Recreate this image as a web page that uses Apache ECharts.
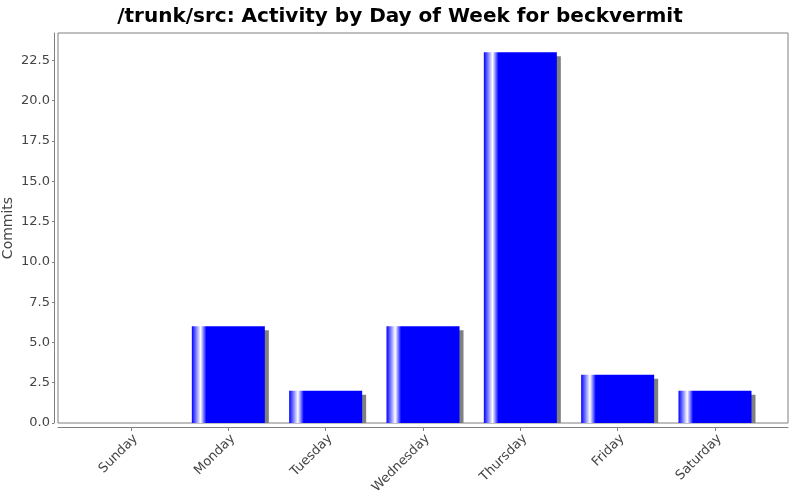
<!DOCTYPE html>
<html>
<head>
<meta charset="utf-8">
<script src="https://cdn.jsdelivr.net/npm/echarts@6/dist/echarts.min.js"></script>
<style>
  html, body { margin: 0; padding: 0; background: #fff; }
  #chart { width: 800px; height: 500px; }
</style>
</head>
<body>
<div id="chart"></div>
<script>
var days = ['Sunday', 'Monday', 'Tuesday', 'Wednesday', 'Thursday', 'Friday', 'Saturday'];
var commits = [0, 6, 2, 6, 23, 3, 2];
var titleText = '/trunk/src: Activity by Day of Week for beckvermit';
var yName = 'Commits';

var chart = echarts.init(document.getElementById('chart'));

var dayIdx = days.map(function (d, i) { return i; });

var barColor = new echarts.graphic.LinearGradient(0, 0, 1, 0, [
  { offset: 0, color: '#0000ff' },
  { offset: 0.06, color: '#8080ff' },
  { offset: 0.12, color: '#ffffff' },
  { offset: 0.2, color: '#0000ff' },
  { offset: 1, color: '#0000ff' }
]);

// bar plus grey drop shadow (shifted right/down, cut at the baseline)
function renderBar(params, api) {
  var v = api.value(1);
  if (!v) return null;
  var top = api.coord([api.value(0), v]);
  var base = api.coord([api.value(0), 0]);
  var w = api.size([0.75, 0])[0];
  var x = top[0] - w / 2;
  return {
    type: 'group',
    children: [{
      type: 'rect',
      shape: { x: x + 4, y: top[1] + 4, width: w, height: base[1] - top[1] - 4 },
      style: { fill: '#808080' }
    }, {
      type: 'rect',
      shape: { x: x, y: top[1], width: w, height: base[1] - top[1] },
      style: { fill: barColor }
    }]
  };
}

var option = {
  animation: false,
  title: {
    text: titleText,
    left: 'center',
    top: 2,
    textStyle: {
      fontFamily: 'DejaVu Sans',
      fontWeight: 'bold',
      fontSize: 20,
      color: '#000'
    }
  },
  graphic: [{
    type: 'text',
    x: 8,
    y: 228,
    rotation: Math.PI / 2,
    style: {
      text: yName,
      fontFamily: 'DejaVu Sans',
      fontSize: 14,
      fill: '#444',
      textAlign: 'center',
      textVerticalAlign: 'middle'
    }
  }],
  grid: {
    left: 58,
    right: 12,
    top: 33,
    bottom: 77,
    containLabel: false,
    outerBoundsMode: 'none',
    show: true,
    borderColor: '#808080',
    borderWidth: 1,
    backgroundColor: '#fff'
  },
  xAxis: {
    type: 'value',
    min: -0.75,
    max: 6.75,
    offset: 4,
    splitLine: { show: false },
    axisLine: { show: true, onZero: false, lineStyle: { color: '#808080' } },
    axisTick: { show: true, length: 4, customValues: dayIdx, lineStyle: { color: '#808080' } },
    axisLabel: {
      customValues: dayIdx,
      rotate: 45,
      verticalAlign: 'top',
      fontFamily: 'DejaVu Sans',
      fontSize: 13,
      color: '#444',
      margin: 5,
      formatter: function (v) { return days[Math.round(v)]; }
    }
  },
  yAxis: {
    type: 'value',
    min: 0,
    max: 24.2,
    interval: 2.5,
    offset: 4,
    axisLine: { show: true, onZero: false, lineStyle: { color: '#808080' } },
    axisTick: { show: true, length: 2, lineStyle: { color: '#808080' } },
    splitLine: { show: false },
    axisLabel: {
      fontFamily: 'DejaVu Sans',
      fontSize: 13,
      color: '#444',
      margin: 4,
      showMaxLabel: false,
      formatter: function (v) { return v.toFixed(1); }
    }
  },
  series: [{
    type: 'custom',
    renderItem: renderBar,
    data: commits.map(function (c, i) { return [i, c]; })
  }]
};

chart.setOption(option);
</script>
</body>
</html>
